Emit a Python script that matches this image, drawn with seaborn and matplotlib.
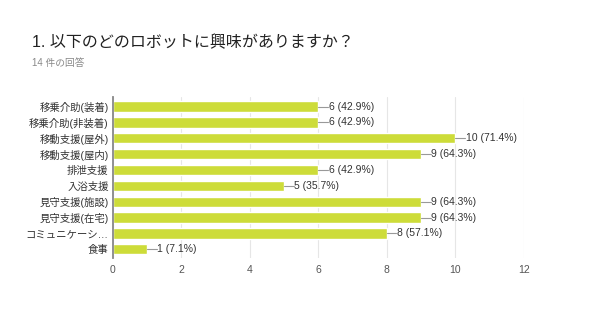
import matplotlib
matplotlib.use("Agg")
import matplotlib.pyplot as plt
import seaborn as sns
import pandas as pd

categories = ["移乗介助(装着)", "移乗介助(非装着)", "移動支援(屋外)", "移動支援(屋内)", "排泄支援",
              "入浴支援", "見守支援(施設)", "見守支援(在宅)", "コミュニケーシ…", "食事"]
counts = [6, 6, 10, 9, 6, 5, 9, 9, 8, 1]
percents = [42.9, 42.9, 71.4, 64.3, 42.9, 35.7, 64.3, 64.3, 57.1, 7.1]
xticks = [0, 2, 4, 6, 8, 10, 12]

sns.set_theme(style="white")
plt.rcParams["font.family"] = ["Liberation Sans", "Noto Sans CJK JP", "DejaVu Sans"]

df = pd.DataFrame({"category": categories, "count": counts})

fig = plt.figure(figsize=(6.0, 3.36), dpi=100)
ax = fig.add_axes([0.188, 0.232, 0.685, 0.479])

sns.barplot(data=df, y="category", x="count", color="#cddc39", saturation=1,
            width=0.65, ax=ax, zorder=3)

ax.set_xlim(0, 12)
ax.set_xticks(xticks)
ax.set_xticklabels([str(t) for t in xticks])
ax.set_xlabel("")
ax.set_ylabel("")
ax.grid(axis="x", color="#e6e6e6", linewidth=0.8, zorder=0)
for s in ["top", "right", "bottom"]:
    ax.spines[s].set_visible(False)
ax.spines["left"].set_color("#888888")
ax.spines["left"].set_linewidth(1.3)
ax.spines["left"].set_zorder(4)
ax.tick_params(axis="y", length=0, pad=3, labelsize=7.5, labelcolor="#333333")
ax.tick_params(axis="x", length=0, pad=5, labelsize=7.5, labelcolor="#555555")
ax.set_ylim(len(categories) - 0.45, -0.6)

for i, (c, p) in enumerate(zip(counts, percents)):
    ax.plot([c, c + 0.28], [i, i], color="#999999", linewidth=0.8, zorder=4)
    ax.text(c + 0.3, i, f"{c} ({p}%)", va="center", ha="left",
            fontsize=7.5, color="#333333", zorder=5)

fig.text(0.053, 0.873, "1. 以下のどのロボットに興味がありますか？", fontsize=11.5,
         color="#212121", va="center", ha="left")
fig.text(0.053, 0.812, "14 件の回答", fontsize=7, color="#888888", va="center", ha="left")

fig.savefig("out.png", dpi=100, facecolor="white")
